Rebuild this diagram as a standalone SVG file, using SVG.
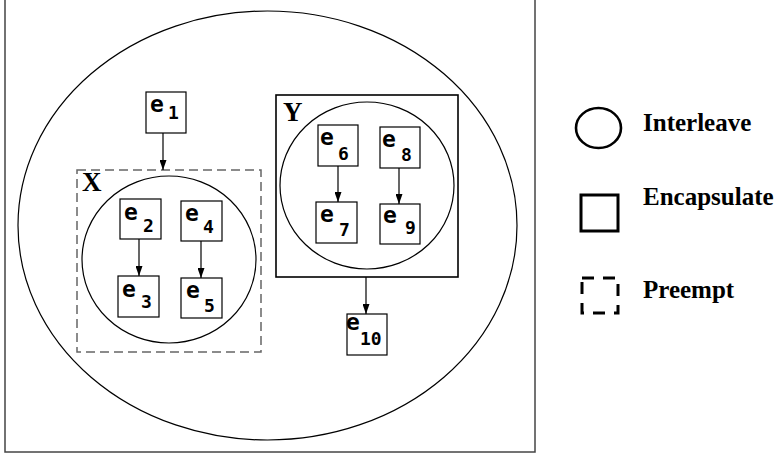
<svg xmlns="http://www.w3.org/2000/svg" width="776" height="455" viewBox="0 0 776 455">
<style>
.node rect{fill:#fff;stroke:#000;stroke-width:1.2}
.e{font-family:"DejaVu Sans Mono","Liberation Mono",monospace;font-weight:bold;font-size:23px;fill:#000}
.s{font-family:"DejaVu Sans Mono","Liberation Mono",monospace;font-weight:bold;font-size:18px;fill:#000}
.lbl{font-family:"Liberation Serif","Times New Roman",serif;font-weight:bold;fill:#000}
.conn line{stroke:#000;stroke-width:1.2;marker-end:url(#ah)}
</style>
<defs>
<marker id="ah" markerUnits="userSpaceOnUse" markerWidth="10" markerHeight="7" refX="10" refY="3.5" orient="auto">
<path d="M0,0 L10,3.5 L0,7 z" fill="#000"/>
</marker>
</defs>
<rect width="776" height="455" fill="#fff"/>
<g id="frame">
<rect x="5" y="-2" width="530" height="454" fill="none" stroke="#444" stroke-width="1.5"/>
<ellipse cx="267.5" cy="225.5" rx="249.5" ry="214.5" fill="none" stroke="#000" stroke-width="1.2"/>
</g>
<g id="X">
<rect x="77" y="170" width="184" height="182" fill="none" stroke="#666" stroke-width="1.5" stroke-dasharray="9 5"/>
<ellipse cx="169" cy="259.5" rx="87" ry="83.5" fill="none" stroke="#000" stroke-width="1.2"/>
<text class="lbl" x="82" y="191" font-size="27">X</text>
</g>
<g id="Y">
<rect x="276" y="95" width="182" height="182" fill="none" stroke="#000" stroke-width="1.6"/>
<ellipse cx="367" cy="185.5" rx="87" ry="83.5" fill="none" stroke="#000" stroke-width="1.2"/>
<text class="lbl" x="283" y="121" font-size="27">Y</text>
</g>
<g id="e1" class="node"><rect x="146" y="92" width="40" height="41"/><text class="e" x="150" y="112">e</text><text class="s" x="168" y="119">1</text></g>
<g id="e2" class="node"><rect x="120" y="199" width="41" height="40"/><text class="e" x="124" y="220">e</text><text class="s" x="143" y="232">2</text></g>
<g id="e3" class="node"><rect x="118" y="276" width="41" height="41"/><text class="e" x="122" y="297">e</text><text class="s" x="141" y="308">3</text></g>
<g id="e4" class="node"><rect x="181" y="201" width="41" height="40"/><text class="e" x="185" y="221">e</text><text class="s" x="203" y="233">4</text></g>
<g id="e5" class="node"><rect x="181" y="278" width="41" height="40"/><text class="e" x="186" y="298">e</text><text class="s" x="204" y="312">5</text></g>
<g id="e6" class="node"><rect x="318" y="125" width="40" height="41"/><text class="e" x="320" y="145">e</text><text class="s" x="338" y="160">6</text></g>
<g id="e7" class="node"><rect x="316" y="202" width="41" height="41"/><text class="e" x="320" y="222">e</text><text class="s" x="339" y="236">7</text></g>
<g id="e8" class="node"><rect x="380" y="127" width="40" height="41"/><text class="e" x="382" y="147">e</text><text class="s" x="401" y="161">8</text></g>
<g id="e9" class="node"><rect x="380" y="204" width="40" height="40"/><text class="e" x="383" y="223">e</text><text class="s" x="405" y="234">9</text></g>
<g id="e10" class="node"><rect x="347" y="314" width="40" height="41"/><text class="e" x="346" y="330">e</text><text class="s" x="360" y="345">10</text></g>
<g id="connectors" class="conn">
<line x1="163" y1="133" x2="163" y2="170"/>
<line x1="139" y1="239" x2="139" y2="276"/>
<line x1="201" y1="241" x2="201" y2="278"/>
<line x1="338" y1="166" x2="338" y2="202"/>
<line x1="399" y1="168" x2="399" y2="204"/>
<line x1="366" y1="277" x2="366" y2="314"/>
</g>
<g id="legend">
<ellipse cx="598.5" cy="128" rx="22.5" ry="20" fill="none" stroke="#000" stroke-width="2.6"/>
<text class="lbl" x="643" y="131" font-size="25">Interleave</text>
<rect x="581" y="195" width="37" height="36" fill="none" stroke="#000" stroke-width="3"/>
<text class="lbl" x="643" y="205" font-size="25">Encapsulate</text>
<rect x="582" y="278" width="36" height="35" fill="none" stroke="#000" stroke-width="3" stroke-dasharray="12 9"/>
<text class="lbl" x="643" y="298" font-size="25">Preempt</text>
</g>
</svg>
